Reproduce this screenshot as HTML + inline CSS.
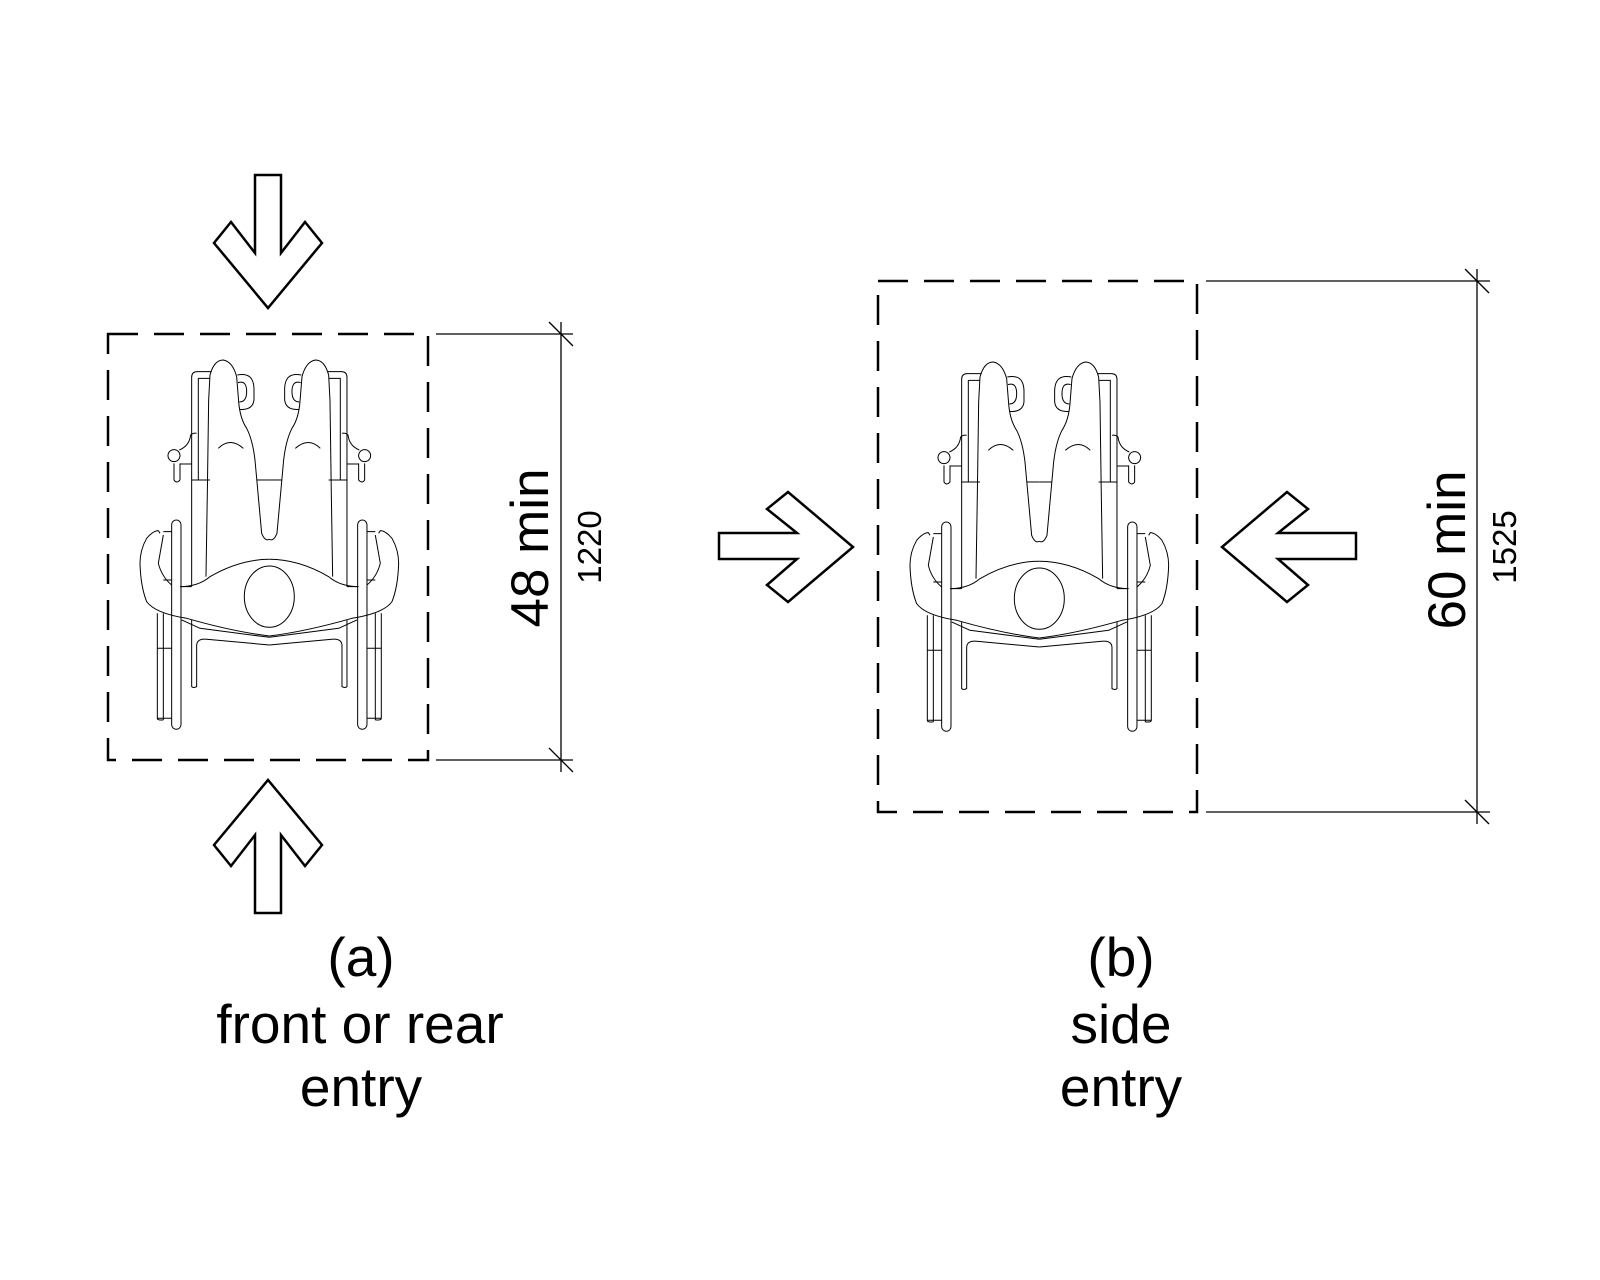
<!DOCTYPE html>
<html><head><meta charset="utf-8"><style>
html,body{margin:0;padding:0;background:#fff;}
svg{display:block;}
text{font-family:"Liberation Sans",Arial,sans-serif;fill:#000;}
</style></head><body>
<svg width="1600" height="1280" viewBox="0 0 1600 1280" xmlns="http://www.w3.org/2000/svg">
<defs>
<g id="half" fill="none" stroke="#000" stroke-width="3" stroke-linejoin="round">
  <path d="M275,800 L275,172 Q275,155 292,155 L335,155"/>
  <path d="M295,480 L295,175 L330,175"/>
  <path d="M275,480 L330,480"/>
  <path d="M330,165 Q342,120 370,120 Q398,125 410,170 L416,245 Q420,295 440,325 Q458,360 465,420 L485,640 Q495,665 508,658"/>
  <path d="M330,165 L326,240 L322,520 L318,770"/>
  <path d="M470,480 L508,480"/>
  <path d="M355,385 Q390,350 430,385"/>
  <path d="M412,165 Q460,155 462,205 L462,240 Q458,272 418,268"/>
  <path d="M414,188 Q440,180 440,215 Q440,246 418,246"/>
  <circle cx="222" cy="407" r="18"/>
  <path d="M222,430 L222,480 Q230,492 240,480 L240,430"/>
  <path d="M238,390 Q268,378 272,345 Q280,338 290,340"/>
  <path d="M240,432 L275,432"/>
  <rect x="215" y="600" width="28" height="628" rx="14"/>
  <path d="M172,880 L172,1195 Q172,1200 180,1200 L190,1200 M190,880 L190,1200 M172,985 L215,985 M172,1195 L215,1195"/>
  <path d="M190,635 L215,635 M190,780 L215,780 M243,800 L275,800"/>
  <path d="M180,640 L175,632 Q160,632 140,655 Q120,690 120,730 Q122,800 140,845 Q165,880 260,895 Q400,935 508,948"/>
  <path d="M190,645 Q182,690 175,730 Q185,770 215,795"/>
  <path d="M240,800 Q295,800 330,770 Q420,718 508,718"/>
  <path d="M275,900 L275,1100 Q280,1105 290,1100 L290,975 Q292,955 320,958 L508,975"/>
  <path d="M245,900 L300,925 L508,952"/>
</g>
<g id="chair">
  <use href="#half"/>
  <use href="#half" transform="translate(1016,0) scale(-1,1)"/>
  <ellipse cx="508" cy="830" rx="75" ry="92" fill="none" stroke="#000" stroke-width="3"/>
</g>
</defs>

<rect x="108" y="334" width="320" height="426" fill="none" stroke="#000" stroke-width="2.5" stroke-dasharray="30 16"/>
<use href="#chair" transform="translate(100,320) scale(0.3333)"/>
<g stroke="#000" stroke-width="1.3" fill="none">
  <line x1="436" y1="334" x2="573" y2="334"/>
  <line x1="436" y1="760" x2="573" y2="760"/>
  <line x1="561" y1="322" x2="561" y2="772"/>
  <line x1="549" y1="322" x2="573" y2="346"/>
  <line x1="549" y1="748" x2="573" y2="772"/>
</g>
<text x="0" y="0" font-size="53" text-anchor="middle" transform="translate(548,548) rotate(-90)">48 min</text>
<text x="0" y="0" font-size="33" text-anchor="middle" transform="translate(601,547) rotate(-90)">1220</text>

<g fill="#fff" stroke="#000" stroke-width="2.5" stroke-linejoin="miter">
  <polygon points="255,175 281,175 281,253 305,222 322,243 268,308 214,243 231,222 255,253"/>
  <polygon points="255,913 281,913 281,835 305,866 322,845 268,780 214,845 231,866 255,835"/>
  <polygon points="719,533 797,533 767,509 788,492 853,547 788,602 767,585 797,559 719,559"/>
  <polygon points="1356,533 1278,533 1308,509 1287,492 1222,547 1287,602 1308,585 1278,559 1356,559"/>
</g>

<text x="361" y="976" font-size="55" text-anchor="middle">(a)</text>
<text x="360" y="1043" font-size="55" text-anchor="middle">front or rear</text>
<text x="361" y="1106" font-size="55" text-anchor="middle">entry</text>

<rect x="878" y="281" width="319" height="531" fill="none" stroke="#000" stroke-width="2.5" stroke-dasharray="30 16"/>
<use href="#chair" transform="translate(870,322) scale(0.3333)"/>
<g stroke="#000" stroke-width="1.3" fill="none">
  <line x1="1206" y1="281" x2="1490" y2="281"/>
  <line x1="1206" y1="812" x2="1490" y2="812"/>
  <line x1="1477" y1="269" x2="1477" y2="824"/>
  <line x1="1465" y1="269" x2="1489" y2="293"/>
  <line x1="1465" y1="800" x2="1489" y2="824"/>
</g>
<text x="0" y="0" font-size="53" text-anchor="middle" transform="translate(1465,550) rotate(-90)">60 min</text>
<text x="0" y="0" font-size="33" text-anchor="middle" transform="translate(1516,547) rotate(-90)">1525</text>

<text x="1121" y="976" font-size="55" text-anchor="middle">(b)</text>
<text x="1121" y="1043" font-size="55" text-anchor="middle">side</text>
<text x="1121" y="1106" font-size="55" text-anchor="middle">entry</text>
</svg>
</body></html>
